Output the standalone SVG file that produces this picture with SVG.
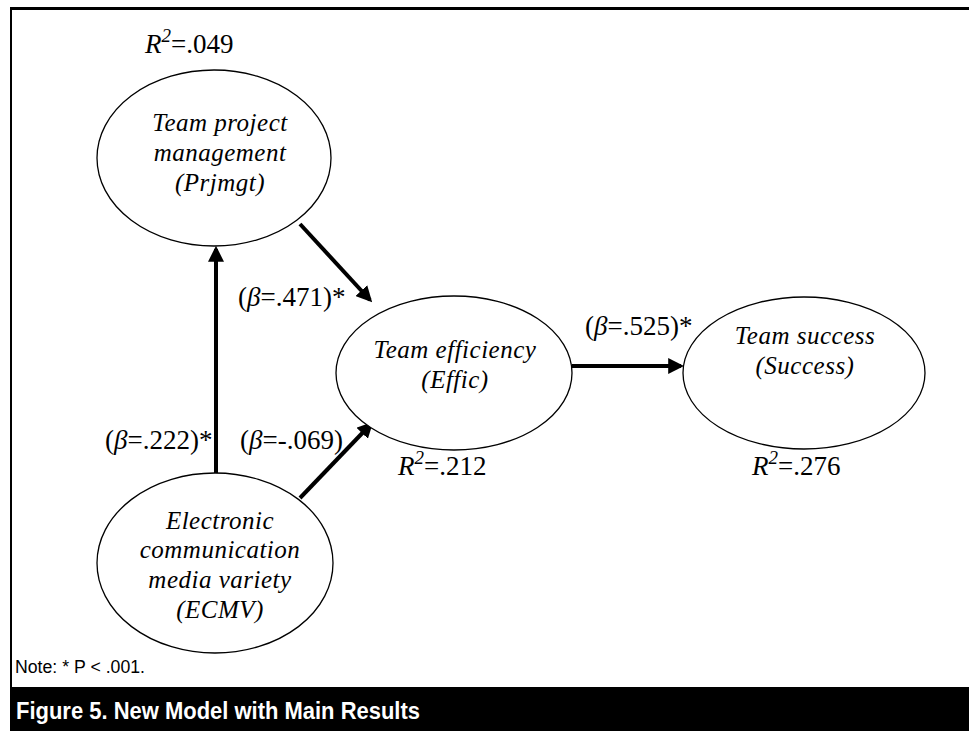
<svg xmlns="http://www.w3.org/2000/svg" width="969" height="731" viewBox="0 0 969 731">
<style>
.node{fill:#fff;stroke:#000;stroke-width:1.3}
.nt{font-family:"Liberation Serif",serif;font-style:italic;font-size:25px;text-anchor:middle;fill:#000;letter-spacing:0.5px}
.lb{font-family:"Liberation Serif",serif;font-size:27px;fill:#000}
.it{font-style:italic}
.conn{stroke:#000;stroke-width:4;fill:none}
</style>
<defs>
<marker id="ah" markerWidth="4" markerHeight="4" refX="3.2" refY="2" orient="auto" markerUnits="strokeWidth">
<path d="M0,0 L4,2 L0,4 z" fill="#000"/>
</marker>
</defs>
<rect x="0" y="0" width="969" height="731" fill="#fff"/>
<line x1="10" y1="8.5" x2="969" y2="8.5" stroke="#000" stroke-width="3"/>
<line x1="11" y1="7" x2="11" y2="731" stroke="#000" stroke-width="2"/>
<rect x="10" y="687" width="959" height="44" fill="#000"/>
<text x="16" y="719" font-family="Liberation Sans,Arial,sans-serif" font-weight="bold" font-size="24" fill="#fff" textLength="404" lengthAdjust="spacingAndGlyphs">Figure 5. New Model with Main Results</text>
<text x="15" y="673" font-family="Liberation Sans,Arial,sans-serif" font-size="18" fill="#000" textLength="130" lengthAdjust="spacingAndGlyphs">Note: * P &lt; .001.</text>

<g id="connectors">
<line class="conn" x1="216" y1="473" x2="216" y2="249" marker-end="url(#ah)"/>
<line class="conn" x1="300" y1="224" x2="370" y2="300" marker-end="url(#ah)"/>
<line class="conn" x1="300" y1="498" x2="371" y2="424" marker-end="url(#ah)"/>
<line class="conn" x1="572" y1="366" x2="681" y2="366" marker-end="url(#ah)"/>
</g>

<g id="prjmgt">
<ellipse class="node" cx="214" cy="158" rx="117" ry="88"/>
<text class="nt" x="220" y="131">Team project</text>
<text class="nt" x="220" y="161">management</text>
<text class="nt" x="220" y="191">(Prjmgt)</text>
</g>
<g id="effic">
<ellipse class="node" cx="454" cy="373" rx="118" ry="77"/>
<text class="nt" x="455" y="358">Team efficiency</text>
<text class="nt" x="455" y="388">(Effic)</text>
</g>
<g id="success">
<ellipse class="node" cx="804" cy="373" rx="121" ry="76"/>
<text class="nt" x="805" y="344">Team success</text>
<text class="nt" x="805" y="374">(Success)</text>
</g>
<g id="ecmv">
<ellipse class="node" cx="215" cy="563" rx="118" ry="90"/>
<text class="nt" x="220" y="529">Electronic</text>
<text class="nt" x="220" y="558">communication</text>
<text class="nt" x="220" y="588">media variety</text>
<text class="nt" x="220" y="618">(ECMV)</text>
</g>

<g id="labels">
<text class="lb" x="145" y="53" font-size="28"><tspan class="it">R</tspan><tspan class="it" font-size="19" dy="-11">2</tspan><tspan dy="11">=.049</tspan></text>
<text class="lb" x="238" y="306">(<tspan class="it">β</tspan>=.471)*</text>
<text class="lb" x="105" y="449">(<tspan class="it">β</tspan>=.222)*</text>
<text class="lb" x="240" y="449">(<tspan class="it">β</tspan>=-.069)</text>
<text class="lb" x="585" y="335">(<tspan class="it">β</tspan>=.525)*</text>
<text class="lb" x="398" y="475" font-size="28"><tspan class="it">R</tspan><tspan class="it" font-size="19" dy="-11">2</tspan><tspan dy="11">=.212</tspan></text>
<text class="lb" x="752" y="475" font-size="28"><tspan class="it">R</tspan><tspan class="it" font-size="19" dy="-11">2</tspan><tspan dy="11">=.276</tspan></text>
</g>
</svg>
